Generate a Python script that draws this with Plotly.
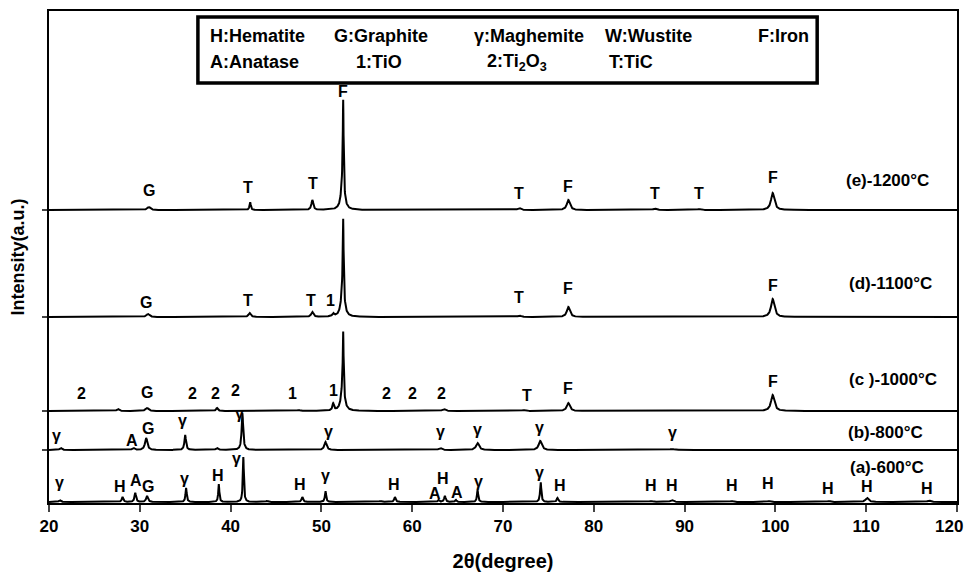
import numpy as np
import plotly.graph_objects as go

# ---------------- data ----------------
x_range = [20, 120]
x_ticks = [20, 30, 40, 50, 60, 70, 80, 90, 100, 110, 120]
x_tick_text = ["20", "30", "40", "50", "60", "70", "80", "90", "100", "110", "120"]
samples = ["(a)-600°C", "(b)-800°C", "(c )-1000°C", "(d)-1100°C", "(e)-1200°C"]
offsets = [1, 53, 92, 186, 293]          # stacking baseline of each pattern (a.u.)

# peaks: position (deg 2θ), height (a.u.), half-width (deg)
a_pos = [21.2, 28.1, 29.5, 30.8, 35.1, 38.7, 41.4, 44.0, 47.9, 50.45, 56.5, 58.1, 62.9, 63.6, 64.8, 67.2, 74.15, 76.0, 86.3, 88.6, 95.2, 99.3, 105.9, 110.1, 116.9]
a_h   = [2, 5, 9, 6, 14, 18, 45, 1, 5, 11, 1, 5, 2, 6, 2, 12, 20, 4, 1, 2, 1, 1, 1, 4, 1.5]
a_w   = [0.12, 0.1, 0.1, 0.12, 0.08, 0.07, 0.07, 0.15, 0.1, 0.08, 0.15, 0.1, 0.1, 0.1, 0.1, 0.08, 0.08, 0.1, 0.2, 0.2, 0.2, 0.2, 0.2, 0.2, 0.2]

b_pos = [21.3, 29.3, 30.7, 35.0, 38.5, 41.3, 50.45, 63.1, 67.2, 74.1, 88.6]
b_h   = [2, 2, 12, 15, 2, 37, 8, 2, 7, 9, 1]
b_w   = [0.15, 0.15, 0.15, 0.1, 0.15, 0.1, 0.15, 0.2, 0.2, 0.2, 0.3]

c_pos = [27.6, 30.8, 38.5, 47.5, 51.3, 52.4, 52.35, 63.5, 72.3, 77.2, 99.7]
c_h   = [2, 3, 3, 1, 7, 55, 26, 2, 1, 8, 16]
c_w   = [0.15, 0.2, 0.12, 0.15, 0.1, 0.05, 0.2, 0.2, 0.2, 0.2, 0.22]

d_pos = [30.9, 42.1, 49.0, 51.3, 52.4, 52.35, 71.8, 77.2, 99.7]
d_h   = [3, 4, 5, 3, 70, 30, 1.5, 10, 18]
d_w   = [0.2, 0.15, 0.15, 0.12, 0.05, 0.2, 0.2, 0.2, 0.22]

e_pos = [31.0, 42.15, 49.0, 52.4, 52.35, 71.8, 77.2, 86.7, 91.6, 99.7]
e_h   = [3, 8, 10, 82, 30, 2, 10, 1.5, 1, 17]
e_w   = [0.2, 0.08, 0.12, 0.05, 0.2, 0.2, 0.2, 0.2, 0.2, 0.22]

peak_sets = [(a_pos, a_h, a_w), (b_pos, b_h, b_w), (c_pos, c_h, c_w),
             (d_pos, d_h, d_w), (e_pos, e_h, e_w)]

# phase labels: text, 2θ, intensity
a_lab = [("γ", 21.21, 21), ("H", 27.82, 17), ("A", 29.58, 23), ("G", 30.90, 17),
         ("γ", 34.87, 25), ("H", 38.61, 28), ("γ", 40.70, 45), ("H", 47.64, 19),
         ("γ", 50.40, 28), ("H", 57.99, 19), ("A", 62.51, 10), ("H", 63.39, 25),
         ("A", 64.93, 11), ("γ", 67.25, 22), ("γ", 74.07, 31), ("H", 76.28, 18),
         ("H", 86.30, 18), ("H", 88.61, 18), ("H", 95.22, 18), ("H", 99.19, 20),
         ("H", 105.79, 15), ("H", 110.09, 17), ("H", 116.70, 15)]
b_lab = [("γ", 20.88, 68), ("A", 29.14, 63), ("G", 30.90, 75), ("γ", 34.65, 83),
         ("γ", 40.93, 90), ("γ", 50.73, 72), ("γ", 63.17, 72), ("γ", 67.14, 74),
         ("γ", 74.07, 76), ("γ", 88.72, 71)]
c_lab = [("2", 23.63, 110), ("G", 30.79, 111), ("2", 35.75, 110), ("2", 38.39, 110),
         ("2", 40.59, 113), ("1", 46.87, 110), ("1", 51.28, 113), ("2", 57.22, 110),
         ("2", 59.98, 110), ("2", 63.28, 110), ("T", 72.64, 108), ("F", 77.16, 115),
         ("F", 99.74, 122)]
d_lab = [("G", 30.68, 201), ("T", 41.92, 203), ("T", 48.85, 203), ("1", 50.95, 203),
         ("T", 71.76, 206), ("F", 77.16, 215), ("F", 99.74, 218)]
e_lab = [("G", 31.0, 313), ("T", 41.92, 316), ("T", 49.07, 320), ("F", 52.35, 412),
         ("T", 71.76, 310), ("F", 77.16, 317), ("T", 86.74, 310), ("T", 91.59, 310),
         ("F", 99.74, 326)]
sample_label_pos = [(112.3, 36), (112.1, 71), (112.9, 124), (112.7, 220), (112.3, 323)]

legend_row1 = [("H:Hematite", 37.5), ("G:Graphite", 51.17), ("γ:Maghemite", 66.59),
               ("W:Wustite", 81.01), ("F:Iron", 97.86)]
legend_row2 = [("A:Anatase", 37.5), ("1:TiO", 53.59), ("2:Ti<sub>2</sub>O<sub>3</sub>", 68.02),
               ("T:TiC", 81.45)]

# ---------------- figure ----------------
FONT = "Liberation Sans, Arial, sans-serif"
grid = np.arange(x_range[0], x_range[1] + 0.001, 0.02)

fig = go.Figure()
for name, off, (pos, h, w) in zip(samples, offsets, peak_sets):
    y = np.full_like(grid, float(off))
    for p0, hh, ww in zip(pos, h, w):
        y += hh / (1.0 + ((grid - p0) / ww) ** 2)
    fig.add_trace(go.Scatter(x=grid, y=y, mode="lines", name=name,
                             line=dict(color="black", width=2), showlegend=False))

annotations = []
for labs in [a_lab, b_lab, c_lab, d_lab, e_lab]:
    for t, xx, yy in labs:
        annotations.append(dict(x=xx, y=yy, text=t, showarrow=False, xref="x", yref="y",
                                font=dict(family=FONT, size=16, color="black", weight="bold")))
for name, (xx, yy) in zip(samples, sample_label_pos):
    annotations.append(dict(x=xx, y=yy, text=name, showarrow=False, xref="x", yref="y",
                            font=dict(family=FONT, size=17, color="black", weight="bold")))
for t, xx in legend_row1:
    annotations.append(dict(x=xx, y=467, text=t, showarrow=False, xref="x", yref="y",
                            xanchor="left", font=dict(family=FONT, size=18, color="black", weight="bold")))
for t, xx in legend_row2:
    annotations.append(dict(x=xx, y=441, text=t, showarrow=False, xref="x", yref="y",
                            xanchor="left", font=dict(family=FONT, size=18, color="black", weight="bold")))
# last tick label, kept inside the page edge
annotations.append(dict(x=x_ticks[-1], y=0, xref="x", yref="paper", text=x_tick_text[-1],
                        showarrow=False, xanchor="right", yanchor="middle", xshift=8, yshift=-23,
                        font=dict(family=FONT, size=17, color="black", weight="bold")))

fig.add_shape(type="rect", xref="x", yref="y", x0=36.4, x1=104.6, y0=420, y1=486,
              line=dict(color="black", width=3.5), fillcolor="white", layer="below")

# page body has an 8px margin, so the figure is sized/offset to compensate
fig.update_layout(
    width=958, height=564,
    margin=dict(l=41, r=9, t=3, b=69, autoexpand=False),
    paper_bgcolor="white", plot_bgcolor="white",
    annotations=annotations,
    font=dict(family=FONT, color="black"),
)
fig.update_xaxes(range=x_range, tickvals=x_ticks, ticktext=x_tick_text[:-1] + [""],
                 ticks="outside", ticklen=7, tickwidth=2,
                 showline=True, linewidth=2, linecolor="black", mirror=True,
                 showgrid=False, zeroline=False, automargin=False,
                 tickfont=dict(family=FONT, size=17, color="black", weight="bold"),
                 title=dict(text="2θ(degree)", standoff=27,
                            font=dict(family=FONT, size=20, color="black", weight="bold")))
fig.update_yaxes(range=[0, 492], tickvals=offsets[1:], ticks="outside", ticklen=5, tickwidth=2,
                 showticklabels=False, showline=True, linewidth=2, linecolor="black", mirror=True,
                 showgrid=False, zeroline=False, automargin=False,
                 title=dict(text="Intensity(a.u.)", standoff=14,
                            font=dict(family=FONT, size=18, color="black", weight="bold")))

fig.write_html("out.html")
